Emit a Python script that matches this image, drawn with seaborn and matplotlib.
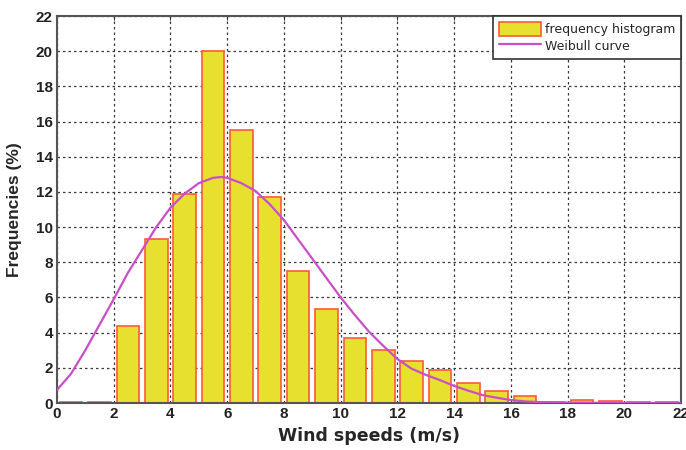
import numpy as np
import pandas as pd
import seaborn as sns
import matplotlib
matplotlib.use("Agg")
import matplotlib.pyplot as plt
from matplotlib.patches import Patch
from matplotlib.lines import Line2D

# Wind speed bins (m/s, left edges) and measured frequencies (%)
bin_left = [0, 1, 2, 3, 4, 5, 6, 7, 8, 9, 10, 11, 12, 13, 14, 15, 16, 17, 18, 19, 20, 21]
frequency = [0.06, 0.06, 4.4, 9.3, 11.9, 20.0, 15.5, 11.7, 7.5, 5.35, 3.7, 3.0,
             2.4, 1.85, 1.15, 0.7, 0.4, 0.05, 0.17, 0.1, 0.04, 0.03]

# Fitted Weibull curve (%)
curve_speed = [0, 0.5, 1, 1.5, 2, 2.5, 3, 3.5, 4, 4.5, 5, 5.5, 5.8, 6, 6.5, 7, 7.5,
               8, 8.5, 9, 9.5, 10, 10.5, 11, 11.5, 12, 12.5, 13, 13.5, 14, 14.5,
               15, 15.5, 16, 16.5, 17, 18, 19, 20, 21, 22]
curve_freq = [0.74, 1.67, 3.0, 4.45, 5.9, 7.4, 8.7, 10.0, 11.1, 11.9, 12.5, 12.8, 12.85,
              12.8, 12.5, 12.05, 11.3, 10.4, 9.3, 8.2, 7.1, 6.0, 5.0, 4.05, 3.25, 2.5,
              1.95, 1.6, 1.3, 0.97, 0.7, 0.45, 0.3, 0.17, 0.09, 0.05, 0.02, 0.01, 0.0,
              0.0, 0.0]

x_ticks = list(range(0, 23, 2))
y_ticks = list(range(0, 23, 2))

sns.set_style("white")
plt.rcParams["font.family"] = ["DejaVu Sans"]

fig = plt.figure(figsize=(6.86, 4.5), dpi=100)
ax = fig.add_axes([0.083, 0.1044, 0.91, 0.860])

bar_face = "#E8E02E"
bar_edge = "#FF5A3C"
curve_col = "#C94FC9"

hist_df = pd.DataFrame({"speed": [b + 0.5 for b in bin_left], "freq": frequency})
sns.histplot(data=hist_df, x="speed", weights="freq", binwidth=1, binrange=(0, 22),
             shrink=0.8, color=bar_face, edgecolor=bar_edge, linewidth=1.2,
             alpha=1.0, ax=ax, zorder=2)

curve_df = pd.DataFrame({"speed": curve_speed, "freq": curve_freq})
sns.lineplot(data=curve_df, x="speed", y="freq", color=curve_col, linewidth=1.6,
             ax=ax, zorder=3)

ax.set_xlim(0, 22)
ax.set_ylim(0, 22)
ax.set_xticks(x_ticks)
ax.set_yticks(y_ticks)
ax.set_xticklabels([str(v) for v in x_ticks], fontsize=11, fontweight="bold",
                   family="Liberation Sans", color="#222222")
ax.set_yticklabels([str(v) for v in y_ticks], fontsize=11, fontweight="bold",
                   family="Liberation Sans", color="#222222")
ax.tick_params(direction="in", top=True, right=True, length=3, width=0.8,
               color="#333333", pad=3)

ax.grid(True, linestyle=(0, (2.0, 2.4)), linewidth=0.9, color="#3a3a3a")
ax.set_axisbelow(True)
for sp in ax.spines.values():
    sp.set_color("#555555")
    sp.set_linewidth(1.5)

ax.set_xlabel("Wind speeds (m/s)", fontsize=12.5, fontweight="bold", labelpad=4)
ax.set_ylabel("Frequencies (%)", fontsize=12.5, fontweight="bold",
              family="Liberation Sans", labelpad=10)

handles = [Patch(facecolor=bar_face, edgecolor=bar_edge, linewidth=1.2),
           Line2D([0], [0], color=curve_col, linewidth=1.6)]
leg = ax.legend(handles, ["frequency histogram", "Weibull curve"], loc="upper right",
                fontsize=9, frameon=True, fancybox=False, framealpha=1,
                edgecolor="#333333", borderaxespad=0.0, handlelength=3.4,
                handleheight=1.4, labelspacing=0.2, borderpad=0.45,
                handletextpad=0.3)
leg.get_frame().set_linewidth(1.2)

fig.savefig("out.png", dpi=100)
